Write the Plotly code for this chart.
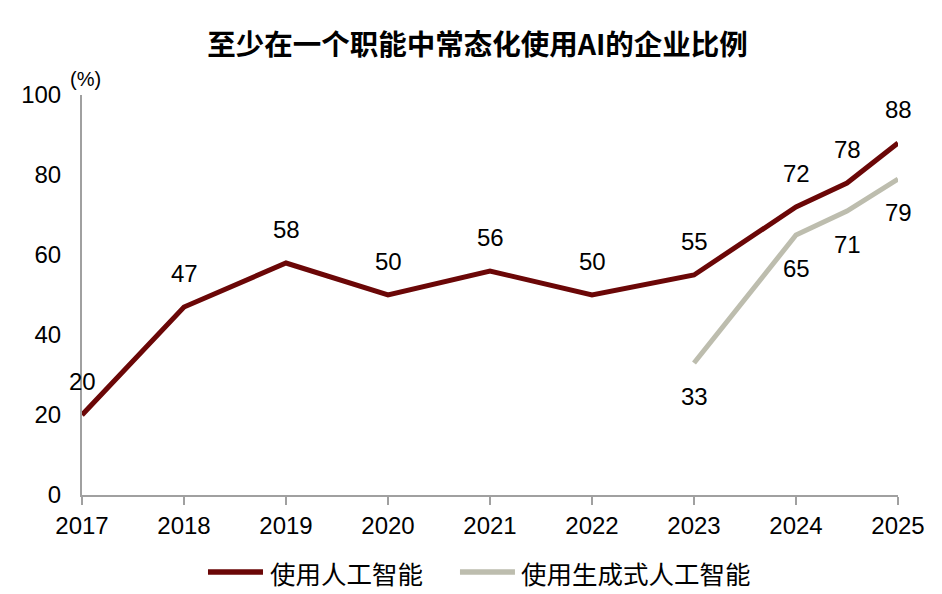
import plotly.graph_objects as go

# 数据
years = [2017, 2018, 2019, 2020, 2021, 2022, 2023, 2024, 2024.5, 2025]
ai_use = [20, 47, 58, 50, 56, 50, 55, 72, 78, 88]
genai_years = [2023, 2024, 2024.5, 2025]
genai_use = [33, 65, 71, 79]
tick_years = [2017, 2018, 2019, 2020, 2021, 2022, 2023, 2024, 2025]
y_ticks = [0, 20, 40, 60, 80, 100]
series_names = ["使用人工智能", "使用生成式人工智能"]

red = "#6B0707"
grey = "#BDBDAE"
axis_grey = "#A0A0A0"
num_font = dict(family="Liberation Sans, Arial", size=24, color="black")
cjk_font = dict(family="Noto Sans CJK SC", size=25.5, color="black")

fig = go.Figure()
fig.add_trace(go.Scatter(x=years, y=ai_use, mode="lines", name=series_names[0],
                         line=dict(color=red, width=5)))
fig.add_trace(go.Scatter(x=genai_years, y=genai_use, mode="lines", name=series_names[1],
                         line=dict(color=grey, width=5)))

# 数据标签
for x, y in zip(years, ai_use):
    fig.add_annotation(x=x, y=y, text=str(y), showarrow=False, yshift=34, font=num_font)
for x, y in zip(genai_years, genai_use):
    fig.add_annotation(x=x, y=y, text=str(y), showarrow=False, yshift=-33, font=num_font)

# 单位
fig.add_annotation(xref="paper", yref="paper", x=-0.0172, y=1.04, text="(%)", showarrow=False,
                   xanchor="left", yanchor="middle",
                   font=dict(family="Liberation Sans, Arial", size=20, color="black"))

# 图例（手工绘制，线段更长）
legend_y = -0.1925
legend_items = [(0.1544, 0.2218, 0.2279, red), (0.4632, 0.5306, 0.5355, grey)]
for (x0, x1, xt, c), name in zip(legend_items, series_names):
    fig.add_shape(type="line", xref="paper", yref="paper", x0=x0, x1=x1, y0=legend_y, y1=legend_y,
                  line=dict(color=c, width=5.5))
    fig.add_annotation(xref="paper", yref="paper", x=xt, y=legend_y, text=name, showarrow=False,
                       xanchor="left", yanchor="middle", font=cjk_font)

fig.update_layout(
    width=942, height=594,
    margin=dict(l=74, r=52, t=87, b=107),
    paper_bgcolor="white", plot_bgcolor="white",
    title=dict(text="<b>至少在一个职能中常态化使用AI的企业比例</b>", x=0.4984, xanchor="center",
               xref="container", y=0.9377, yanchor="middle",
               font=dict(family="Noto Sans CJK SC", size=28.5, color="black")),
    font=num_font,
    showlegend=False,
)
fig.update_xaxes(range=[2017, 2025], tickvals=tick_years, ticktext=[str(t) for t in tick_years],
                 showline=True, linecolor=axis_grey, linewidth=2, ticks="outside",
                 tickcolor=axis_grey, ticklen=8, tickwidth=2, showgrid=False, zeroline=False,
                 tickfont=num_font)
fig.update_yaxes(range=[0, 100], tickvals=y_ticks, showline=True, linecolor=axis_grey,
                 linewidth=2, ticks="", showgrid=False, zeroline=False, tickfont=num_font,
                 ticklabelstandoff=14)

fig.write_html("out.html")
